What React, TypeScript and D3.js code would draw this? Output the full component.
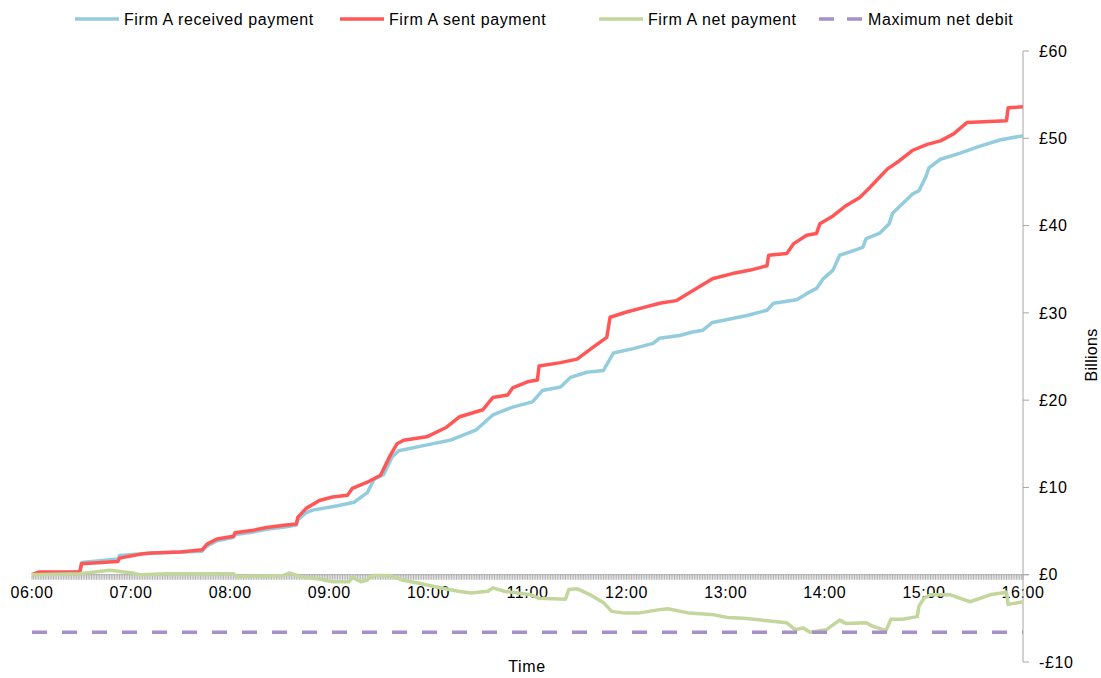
import * as d3 from "d3";

const parseTime = d3.timeParse("%H:%M");

// Firm A cumulative received payments (£bn)
const receivedTimes = [
  "06:00", "06:05", "06:29", "06:30", "06:52", "06:53", "07:07", "07:13", "07:30", "07:43",
  "07:46", "07:52", "08:02", "08:03", "08:14", "08:22", "08:34", "08:40", "08:41", "08:46",
  "08:50", "09:05", "09:15", "09:23", "09:27", "09:33", "09:38", "09:42", "10:00", "10:13",
  "10:29", "10:39", "10:51", "11:03", "11:09", "11:20", "11:26", "11:36", "11:46", "11:52",
  "12:04", "12:16", "12:20", "12:32", "12:40", "12:46", "12:52", "13:13", "13:25", "13:29",
  "13:43", "13:49", "13:55", "13:59", "14:05", "14:09", "14:17", "14:23", "14:25", "14:33",
  "14:39", "14:41", "14:47", "14:53", "14:57", "15:01", "15:03", "15:10", "15:22", "15:34",
  "15:46", "16:00",
];
const receivedValues = [
  0, 0.1, 0.3, 1.4, 1.8, 2.2, 2.4, 2.5, 2.6, 2.7,
  3.3, 3.9, 4.3, 4.6, 4.9, 5.2, 5.5, 5.7, 6.3, 7.1,
  7.4, 7.9, 8.3, 9.4, 10.9, 11.5, 13.5, 14.2, 14.9, 15.4,
  16.6, 18.3, 19.2, 19.8, 21.1, 21.5, 22.6, 23.2, 23.4, 25.4,
  25.9, 26.5, 27.1, 27.4, 27.8, 28.0, 28.9, 29.7, 30.3, 31.1,
  31.5, 32.2, 32.8, 33.9, 34.9, 36.6, 37.1, 37.5, 38.5, 39.1,
  40.2, 41.4, 42.5, 43.6, 44.0, 45.5, 46.6, 47.6, 48.3, 49.1,
  49.8, 50.3,
];

// Firm A cumulative sent payments (£bn)
const sentTimes = [
  "06:00", "06:04", "06:29", "06:30", "06:52", "06:53", "07:07", "07:13", "07:30", "07:43",
  "07:46", "07:52", "08:02", "08:03", "08:14", "08:22", "08:34", "08:40", "08:41", "08:46",
  "08:54", "09:02", "09:11", "09:14", "09:23", "09:31", "09:37", "09:41", "09:45", "09:59",
  "10:11", "10:19", "10:33", "10:39", "10:48", "10:51", "11:00", "11:06", "11:07", "11:20",
  "11:30", "11:40", "11:48", "11:50", "12:00", "12:10", "12:20", "12:30", "12:38", "12:52",
  "13:04", "13:15", "13:25", "13:26", "13:37", "13:41", "13:49", "13:55", "13:57", "14:05",
  "14:13", "14:21", "14:27", "14:33", "14:38", "14:45", "14:53", "15:02", "15:10", "15:18",
  "15:26", "15:50", "15:51", "16:00",
];
const sentValues = [
  0, 0.3, 0.35, 1.25, 1.5, 1.9, 2.4, 2.5, 2.6, 2.85,
  3.5, 4.1, 4.4, 4.8, 5.1, 5.4, 5.7, 5.8, 6.6, 7.6,
  8.5, 8.9, 9.1, 9.9, 10.6, 11.4, 13.7, 15.0, 15.4, 15.8,
  16.9, 18.1, 18.9, 20.3, 20.6, 21.4, 22.1, 22.3, 23.9, 24.3,
  24.7, 26.1, 27.2, 29.5, 30.1, 30.6, 31.1, 31.4, 32.3, 33.9,
  34.5, 34.9, 35.4, 36.6, 36.8, 37.9, 38.9, 39.1, 40.2, 41.1,
  42.3, 43.2, 44.3, 45.5, 46.5, 47.4, 48.6, 49.3, 49.7, 50.5,
  51.8, 52.0, 53.5, 53.6,
];

// Firm A net payment position (£bn)
const netTimes = [
  "06:00", "06:29", "06:47", "07:01", "07:05", "07:22", "07:42", "08:02", "08:04", "08:32",
  "08:36", "08:42", "08:54", "09:02", "09:12", "09:14", "09:19", "09:23", "09:26", "09:37",
  "09:44", "09:52", "10:05", "10:18", "10:26", "10:36", "10:39", "10:46", "11:02", "11:07",
  "11:23", "11:25", "11:30", "11:38", "11:46", "11:51", "11:59", "12:07", "12:20", "12:25",
  "12:38", "12:53", "13:01", "13:11", "13:27", "13:37", "13:42", "13:47", "13:51", "14:01",
  "14:09", "14:13", "14:25", "14:29", "14:37", "14:40", "14:47", "14:56", "14:57", "15:00",
  "15:04", "15:16", "15:28", "15:40", "15:50", "15:51", "16:00",
];
const netValues = [
  0, 0.1, 0.5, 0.2, 0.0, 0.1, 0.1, 0.1, -0.2, -0.1,
  0.2, -0.2, -0.5, -0.8, -0.8, -0.3, -0.8, -0.6, -0.1, -0.1,
  -0.6, -0.9, -1.4, -1.9, -2.1, -1.9, -1.5, -1.9, -2.3, -2.7,
  -2.8, -1.7, -1.6, -2.3, -3.2, -4.2, -4.4, -4.4, -4.0, -3.9,
  -4.4, -4.6, -4.9, -5.0, -5.3, -5.5, -6.3, -6.1, -6.6, -6.3,
  -5.2, -5.6, -5.5, -5.9, -6.4, -5.1, -5.1, -4.8, -3.6, -2.7,
  -2.3, -2.3, -3.1, -2.3, -2.0, -3.4, -3.1,
];

const maxNetDebit = -6.6;

const hourLabels = [
  "06:00", "07:00", "08:00", "09:00", "10:00", "11:00",
  "12:00", "13:00", "14:00", "15:00", "16:00",
];
const yTicks = [-10, 0, 10, 20, 30, 40, 50, 60];

const legendItems = [
  { label: "Firm A received payment", color: "#93CDDD", dash: null, x: 75 },
  { label: "Firm A sent payment", color: "#FF5757", dash: null, x: 340 },
  { label: "Firm A net payment", color: "#C3D69B", dash: null, x: 599 },
  { label: "Maximum net debit", color: "#A590C8", dash: "15,13", x: 819 },
];

const width = 1101;
const height = 678;
const font = "'Liberation Sans', Arial, sans-serif";

export default function App() {
  const x = d3
    .scaleTime()
    .domain([parseTime("06:00"), parseTime("16:00")])
    .range([32, 1023]);
  const y = d3.scaleLinear().domain([-10, 60]).range([662, 51]);

  const line = d3
    .line<[Date, number]>()
    .x((d) => x(d[0]))
    .y((d) => y(d[1]));

  const toPts = (times: string[], vals: number[]) =>
    times.map((t, i) => [parseTime(t), vals[i]] as [Date, number]);

  const minorTicks = d3.timeMinute.range(parseTime("06:00"), parseTime("16:01"));

  const y0 = y(0);
  const axisColor = "#a6a6a6";

  return (
    <svg
      width={width}
      height={height}
      style={{ position: "absolute", left: 0, top: 0, background: "#fff" }}
      fontFamily={font}
    >
      {/* x axis with dense minute ticks */}
      <g>
        {minorTicks.map((t, i) => (
          <line
            key={i}
            x1={x(t)}
            x2={x(t)}
            y1={y0}
            y2={y0 + 5}
            stroke="#8c8c8c"
            strokeWidth={0.7}
          />
        ))}
        <line x1={32} x2={1029} y1={y0} y2={y0} stroke={axisColor} strokeWidth={1} />
        {hourLabels.map((h) => (
          <text
            key={h}
            x={x(parseTime(h))}
            y={598}
            textAnchor="middle"
            fontSize={16}
            letterSpacing={0.6}
            fill="#000"
          >
            {h}
          </text>
        ))}
        <text x={527} y={672} textAnchor="middle" fontSize={16} letterSpacing={0.6}>
          Time
        </text>
      </g>

      {/* right y axis */}
      <g>
        <line x1={1023} x2={1023} y1={y(60)} y2={y(-10)} stroke={axisColor} strokeWidth={1} />
        {yTicks.map((v) => (
          <g key={v}>
            <line x1={1023} x2={1029} y1={y(v)} y2={y(v)} stroke={axisColor} strokeWidth={1} />
            <text
              x={1039}
              y={y(v)}
              dy="0.36em"
              fontSize={16}
              letterSpacing={0.6}
              fill="#000"
            >
              {v < 0 ? `-£${Math.abs(v)}` : `£${v}`}
            </text>
          </g>
        ))}
        <text
          transform="translate(1097,355) rotate(-90)"
          textAnchor="middle"
          fontSize={16}
          letterSpacing={0.3}
        >
          Billions
        </text>
      </g>

      {/* series */}
      <path
        d={line(toPts(receivedTimes, receivedValues)) || ""}
        fill="none"
        stroke="#93CDDD"
        strokeWidth={3.5}
        strokeLinejoin="round"
      />
      <path
        d={line(toPts(sentTimes, sentValues)) || ""}
        fill="none"
        stroke="#FF5757"
        strokeWidth={3.5}
        strokeLinejoin="round"
      />
      <path
        d={line(toPts(netTimes, netValues)) || ""}
        fill="none"
        stroke="#C3D69B"
        strokeWidth={3.5}
        strokeLinejoin="round"
      />
      <line
        x1={x(parseTime("06:00"))}
        x2={x(parseTime("16:00"))}
        y1={y(maxNetDebit)}
        y2={y(maxNetDebit)}
        stroke="#A590C8"
        strokeWidth={3.5}
        strokeDasharray="15,15"
      />

      {/* legend */}
      <g>
        {legendItems.map((d) => (
          <g key={d.label}>
            <line
              x1={d.x}
              x2={d.x + 44}
              y1={19}
              y2={19}
              stroke={d.color}
              strokeWidth={3.5}
              strokeDasharray={d.dash || undefined}
            />
            <text x={d.x + 49} y={24.5} fontSize={16} letterSpacing={0.6} fill="#000">
              {d.label}
            </text>
          </g>
        ))}
      </g>
    </svg>
  );
}
